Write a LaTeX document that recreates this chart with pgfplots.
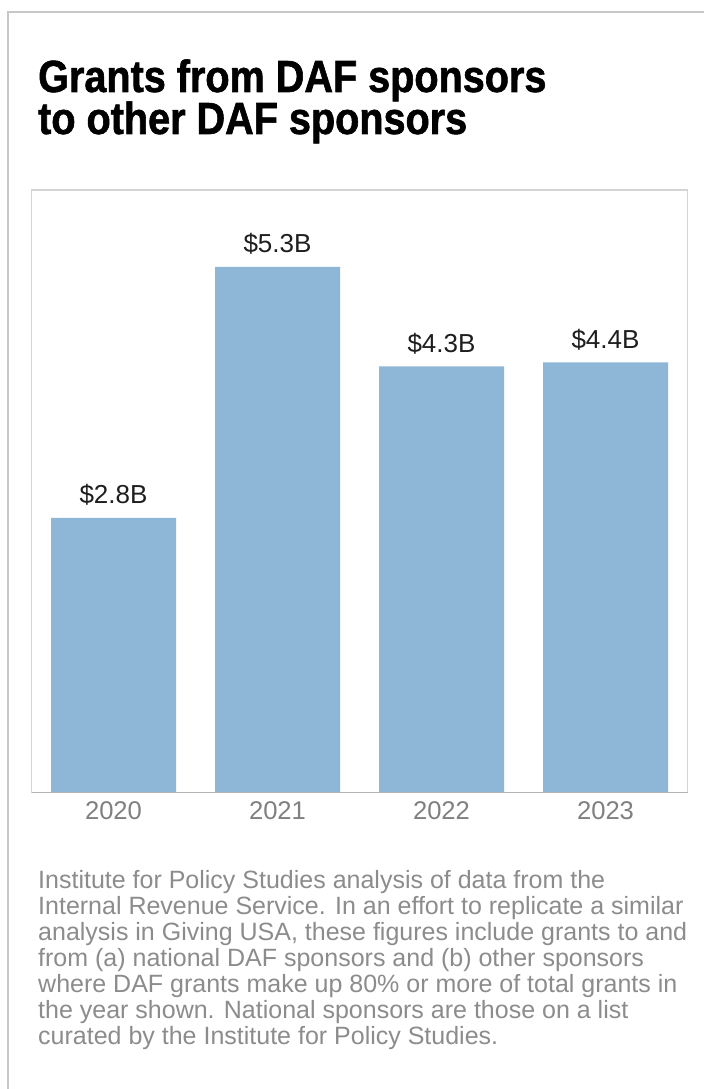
\documentclass[border=0pt]{standalone}
\usepackage{pgfplots}
\pgfplotsset{compat=1.18}
\usepackage{pgfplotstable}
\usepackage{fontspec}
\setmainfont{Liberation Sans}
\newfontfamily\titlefont{Liberation Sans}[UprightFont={* Bold}, FakeBold=1.3, FakeStretch=0.88]
\definecolor{barblue}{RGB}{142,182,214}
\definecolor{framegray}{RGB}{200,200,200}
\definecolor{boxgray}{RGB}{212,212,212}
\definecolor{basegray}{RGB}{180,180,180}
\definecolor{tickgray}{RGB}{128,128,128}
\definecolor{notegray}{RGB}{140,140,140}
\definecolor{labelblack}{RGB}{30,30,30}
\pgfplotstableread{
x y lab
0 2.79 2.8
1 5.34 5.3
2 4.33 4.3
3 4.37 4.4
}\datatable
\begin{document}
\begin{tikzpicture}[x=1pt,y=1pt]
\useasboundingbox (0,0) rectangle (704,1089);
\fill[white] (0,0) rectangle (704,1089);
\draw[framegray, line width=2pt] (8,0) -- (8,1077) -- (704,1077);
\node[anchor=base west, inner sep=0pt, text=black, font=\fontsize{45}{47}\titlefont] at (38,997) {Grants from DAF sponsors};
\node[anchor=base west, inner sep=0pt, text=black, font=\fontsize{45}{47}\titlefont] at (38,955) {to other DAF sponsors};
\begin{axis}[
  at={(31.5pt,296.3pt)}, anchor=south west,
  width=656pt, height=602.7pt, scale only axis,
  xmin=-0.5, xmax=3.5, ymin=0, ymax=6.12,
  ybar, bar width=125pt,
  axis line style={draw=boxgray, line width=1.3pt},
  ytick=\empty,
  xtick={0,1,2,3}, xticklabels={2020,2021,2022,2023},
  major tick length=0pt,
  x tick label style={anchor=base, yshift=-27.3pt, text=tickgray, font=\fontsize{25.6}{28}\selectfont},
  /pgf/number format/assume math mode=true,
  point meta=explicit,
  nodes near coords={\$\pgfmathprintnumber[fixed,fixed zerofill,precision=1]{\pgfplotspointmeta}B},
  every node near coord/.append style={anchor=base, yshift=14pt, inner sep=0pt, text=labelblack, font=\fontsize{26}{28}\selectfont},
  clip=false,
]
\addplot[fill=barblue, draw=none] table[x=x, y=y, meta=lab] {\datatable};
\draw[basegray, line width=1.5pt] (rel axis cs:0,0) -- (rel axis cs:1,0);
\end{axis}
\node[anchor=base west, inner sep=0pt, align=left, text=notegray, font=\fontsize{25}{26}\selectfont] at (38,44) {Institute for Policy Studies analysis of data from the\\Internal Revenue Service. In an effort to replicate a similar\\analysis in Giving USA, these figures include grants to and\\from (a) national DAF sponsors and (b) other sponsors\\where DAF grants make up 80\% or more of total grants in\\the year shown. National sponsors are those on a list\\curated by the Institute for Policy Studies.};
\end{tikzpicture}
\end{document}
